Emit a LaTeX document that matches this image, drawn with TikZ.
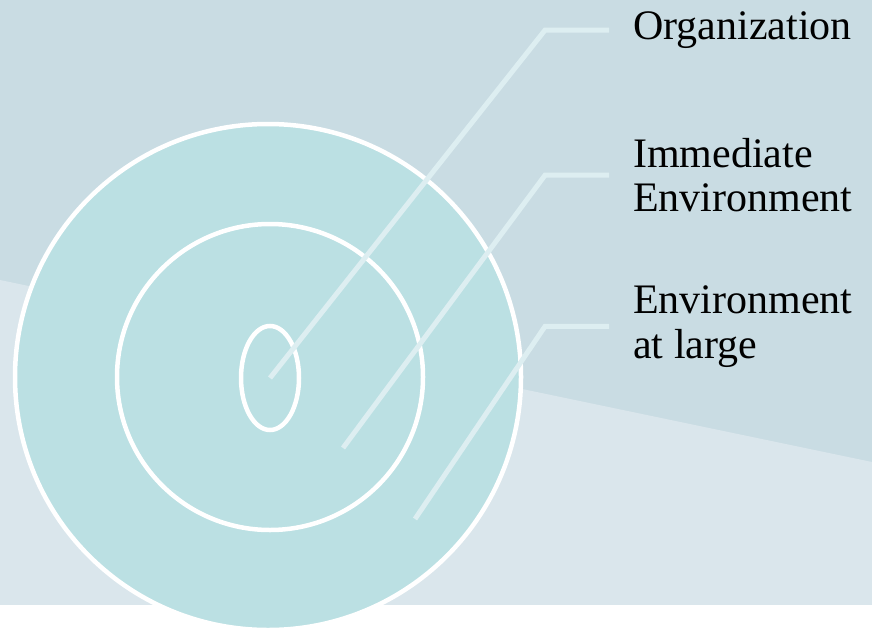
\documentclass[tikz,border=0pt]{standalone}
\usepackage{fontspec}
\setmainfont{Liberation Serif}
\usepackage{tikz}
\usetikzlibrary{calc, positioning}
\usepackage{xcolor}
\definecolor{bgtopcol}{HTML}{C9DCE3}
\definecolor{bglowcol}{HTML}{DAE6EC}
\definecolor{discol}{HTML}{BBE0E3}
\definecolor{leadcol}{HTML}{DDEEF1}

\begin{document}
\begin{tikzpicture}[x=1pt, y=-1pt]
        % Styles
        \tikzset{
          ring/.style={
            draw=white,
            line width=4.5pt
          },
          leader/.style={
            draw=leadcol,
            line width=5pt,
            shorten >=24pt
          },
          lbl/.style={
            font=\fontsize{42}{44.5}\selectfont,
            align=left,
            inner sep=0pt,
            anchor=north west
          }
        }

        \useasboundingbox (0,0) rectangle (872,629);

        % background bands
        \fill[bgtopcol] (0,0) rectangle (872,605);
        \fill[bglowcol] (0,280) -- (872,462) -- (872,605) -- (0,605) -- cycle;
        \fill[white] (0,605) rectangle (872,629);

        % nested circles
        \draw[ring, fill=discol] (268,377) circle [radius=253pt];
        \draw[ring] (270,377) circle [radius=153pt];
        \draw[ring] (270,378) ellipse [x radius=29pt, y radius=52pt];

        % labels
        \node[lbl] (org) at (633,11.5) {Organization};
        \node[lbl] (imm) at (633,138) {Immediate\\Environment};
        \node[lbl] (env) at (633,285.5) {Environment\\at large};

        % leader start points and knees
        \coordinate (orgpt) at (270,378);
        \coordinate (immpt) at (343,448);
        \coordinate (envpt) at (415,519);
        \coordinate (knee) at (545,0);

        \draw[leader] (orgpt) -- (knee |- org.west) -- (org.west);
        \draw[leader] (immpt) -- (knee |- imm.west) -- (imm.west);
        \draw[leader] (envpt) -- (knee |- env.west) -- (env.west);
\end{tikzpicture}
\end{document}
